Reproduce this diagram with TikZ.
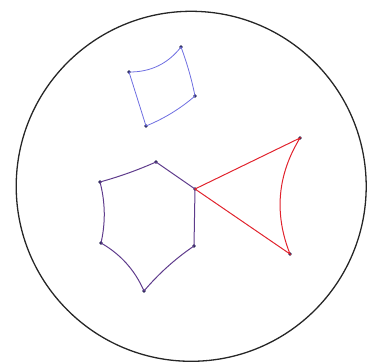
\documentclass[tikz,border=0pt]{standalone}
\usetikzlibrary{calc}
\begin{document}
\begin{tikzpicture}[x=1pt,y=-1pt,
  disk/.style={line width=1.3pt,draw=black!85},
  bluepoly/.style={line width=0.8pt,draw={rgb,255:red,110;green,110;blue,225}},
  purplepoly/.style={line width=1pt,draw={rgb,255:red,95;green,60;blue,140}},
  redpoly/.style={line width=1pt,draw={rgb,255:red,225;green,35;blue,45}},
  vtx/.style={circle,fill={rgb,255:red,35;green,35;blue,80},inner sep=0pt,minimum size=3.6pt}]
\useasboundingbox (0,0) rectangle (367,363);
\coordinate (O) at (191.2,186.3);
\draw[disk] (O) circle[radius=175];
% blue quadrilateral
\node[vtx] (a) at (129,72) {};
\node[vtx] (b) at (181,47) {};
\node[vtx] (c) at (195,96) {};
\node[vtx] (d) at (146,126) {};
% hexagon
\node[vtx] (h1) at (156,162) {};
\node[vtx] (h2) at (195,189) {};
\node[vtx] (h3) at (194,246) {};
\node[vtx] (h4) at (144,291) {};
\node[vtx] (h5) at (101,243) {};
\node[vtx] (h6) at (100,182) {};
% triangle
\node[vtx] (t2) at (300,138) {};
\node[vtx] (t3) at (290,254) {};
% quadratic control points of the geodesic arcs
\coordinate (qab) at (161.2,72.3);
\coordinate (qbc) at (190,71);
\coordinate (qcd) at (173,115);
\coordinate (q61) at (128.7,174.1);
\coordinate (q34) at (166,265);
\coordinate (q45) at (130.5,259.9);
\coordinate (q56) at (108,212.4);
\coordinate (qt) at (266,193.5);
\begin{scope}[on background layer/.try]
\draw[bluepoly] (a.center)
  .. controls ($(a.center)!0.6667!(qab)$) and ($(b.center)!0.6667!(qab)$) .. (b.center)
  .. controls ($(b.center)!0.6667!(qbc)$) and ($(c.center)!0.6667!(qbc)$) .. (c.center)
  .. controls ($(c.center)!0.6667!(qcd)$) and ($(d.center)!0.6667!(qcd)$) .. (d.center)
  -- cycle;
\draw[purplepoly] (h6.center)
  .. controls ($(h6.center)!0.6667!(q61)$) and ($(h1.center)!0.6667!(q61)$) .. (h1.center)
  -- (h2.center) -- (h3.center)
  .. controls ($(h3.center)!0.6667!(q34)$) and ($(h4.center)!0.6667!(q34)$) .. (h4.center)
  .. controls ($(h4.center)!0.6667!(q45)$) and ($(h5.center)!0.6667!(q45)$) .. (h5.center)
  .. controls ($(h5.center)!0.6667!(q56)$) and ($(h6.center)!0.6667!(q56)$) .. (h6.center)
  -- cycle;
\draw[redpoly] (h2.center) -- (t2.center)
  .. controls ($(t2.center)!0.6667!(qt)$) and ($(t3.center)!0.6667!(qt)$) .. (t3.center)
  -- cycle;
\end{scope}
\end{tikzpicture}
\end{document}
